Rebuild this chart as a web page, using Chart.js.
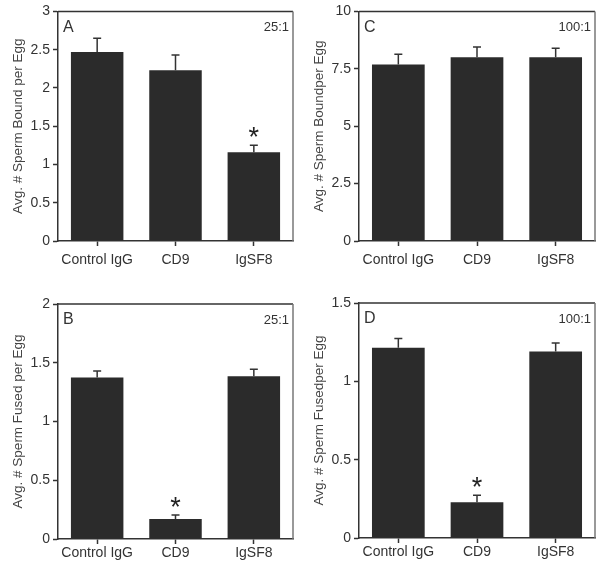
<!DOCTYPE html>
<html>
<head>
<meta charset="utf-8">
<script src="https://cdn.jsdelivr.net/npm/chart.js@4"></script>
<style>
    html, body { margin: 0; padding: 0; background: #fff; }
    body { width: 602px; height: 564px; position: relative; overflow: hidden; }
    .panel { position: absolute; width: 301px; height: 282px; }
</style>
</head>
<body>
<div class="panel" style="left:0;top:0"><canvas id="chartA"></canvas></div>
<div class="panel" style="left:301px;top:0"><canvas id="chartC"></canvas></div>
<div class="panel" style="left:0;top:282px"><canvas id="chartB"></canvas></div>
<div class="panel" style="left:301px;top:282px"><canvas id="chartD"></canvas></div>
<script>
const categories = ["Control IgG", "CD9", "IgSF8"];

const boundLow = [2.47, 2.23, 1.16];
const boundLowErr = [0.18, 0.20, 0.09];
const boundHigh = [7.69, 8.00, 8.00];
const boundHighErr = [0.44, 0.45, 0.39];

const fusedLow = [1.375, 0.17, 1.385];
const fusedLowErr = [0.055, 0.035, 0.06];
const fusedHigh = [1.215, 0.228, 1.19];
const fusedHighErr = [0.058, 0.045, 0.055];

const starsA = [false, false, true];
const starsC = [false, false, false];
const starsB = [false, true, false];
const starsD = [false, true, false];

const FONT = "'Liberation Sans', Arial, sans-serif";
const INK = "#333";
const BAR = "#2b2b2b";

const panelPlugin = {
    id: "panelExtras",
    afterDatasetsDraw(chart, args, opts) {
        const { ctx, chartArea: a, scales } = chart;
        const y = scales.y;
        const meta = chart.getDatasetMeta(0);
        ctx.save();

        // error bars (upper only)
        ctx.strokeStyle = INK;
        ctx.lineWidth = 1.5;
        opts.values.forEach((v, i) => {
            const cx = meta.data[i].x;
            const top = y.getPixelForValue(v + opts.errors[i]);
            const base = y.getPixelForValue(v);
            ctx.beginPath();
            ctx.moveTo(cx, base);
            ctx.lineTo(cx, top);
            ctx.moveTo(cx - 4, top);
            ctx.lineTo(cx + 4, top);
            ctx.stroke();
            if (opts.stars[i]) {
                ctx.fillStyle = "#222";
                ctx.font = "27px " + FONT;
                ctx.textAlign = "center";
                ctx.textBaseline = "alphabetic";
                ctx.fillText("*", cx, top + 1);
            }
        });

        // frame: top and right edges
        ctx.lineWidth = 1.5;
        ctx.strokeStyle = INK;
        ctx.beginPath();
        ctx.moveTo(a.left, a.top);
        ctx.lineTo(a.right, a.top);
        ctx.stroke();
        ctx.strokeStyle = "#777";
        ctx.beginPath();
        ctx.moveTo(a.right, a.top);
        ctx.lineTo(a.right, a.bottom);
        ctx.stroke();

        // panel letter and ratio
        ctx.fillStyle = INK;
        ctx.textBaseline = "middle";
        ctx.font = "16px " + FONT;
        ctx.textAlign = "left";
        ctx.fillText(opts.letter, a.left + 5, a.top + 16);
        ctx.font = "13px " + FONT;
        ctx.textAlign = "right";
        ctx.fillText(opts.ratio, a.right - 4, a.top + 16);
        ctx.restore();
    }
};

function makePanel(id, p) {
    new Chart(document.getElementById(id), {
        type: "bar",
        data: {
            labels: categories,
            datasets: [{
                data: p.values,
                backgroundColor: BAR,
                borderWidth: 0,
                categoryPercentage: 1,
                barPercentage: 0.67
            }]
        },
        options: {
            responsive: false,
            animation: false,
            devicePixelRatio: 1,
            layout: { padding: { left: 0, top: p.padTop, right: p.padRight, bottom: 0 } },
            plugins: {
                legend: { display: false },
                tooltip: { enabled: false },
                panelExtras: {
                    values: p.values,
                    errors: p.errors,
                    stars: p.stars,
                    letter: p.letter,
                    ratio: p.ratio
                }
            },
            scales: {
                x: {
                    afterFit: s => { s.height = p.xHeight; },
                    grid: {
                        offset: false,
                        drawOnChartArea: false,
                        tickLength: 5,
                        tickColor: INK,
                        tickWidth: 1.5
                    },
                    border: { color: INK, width: 1.5 },
                    ticks: {
                        color: INK,
                        padding: p.xPad,
                        font: { family: FONT, size: 14 }
                    }
                },
                y: {
                    min: 0,
                    max: p.max,
                    afterFit: s => { s.width = 58; },
                    afterBuildTicks: axis => {
                        axis.ticks = p.ticks.map(v => ({ value: v }));
                    },
                    grid: {
                        drawOnChartArea: false,
                        tickLength: 5,
                        tickColor: INK,
                        tickWidth: 1.5
                    },
                    border: { color: INK, width: 1.5 },
                    ticks: {
                        color: INK,
                        padding: 3,
                        font: { family: FONT, size: 14 },
                        callback: v => String(v)
                    },
                    title: {
                        display: true,
                        text: p.title,
                        color: "#444",
                        padding: { top: 10, bottom: 0 },
                        font: { family: FONT, size: 13.5 }
                    }
                }
            }
        },
        plugins: [panelPlugin]
    });
}

function sizeCanvas(id) {
    const c = document.getElementById(id);
    c.width = 301;
    c.height = 282;
    c.style.width = "301px";
    c.style.height = "282px";
}
["chartA", "chartB", "chartC", "chartD"].forEach(sizeCanvas);

makePanel("chartA", {
    values: boundLow, errors: boundLowErr, stars: starsA,
    max: 3, ticks: [0, 0.5, 1, 1.5, 2, 2.5, 3],
    title: "Avg. # Sperm Bound per Egg", letter: "A", ratio: "25:1",
    padTop: 7, padRight: 8, xHeight: 41, xPad: 6
});
makePanel("chartC", {
    values: boundHigh, errors: boundHighErr, stars: starsC,
    max: 10, ticks: [0, 2.5, 5, 7.5, 10],
    title: "Avg. # Sperm Boundper Egg", letter: "C", ratio: "100:1",
    padTop: 7, padRight: 7, xHeight: 41, xPad: 6
});
makePanel("chartB", {
    values: fusedLow, errors: fusedLowErr, stars: starsB,
    max: 2, ticks: [0, 0.5, 1, 1.5, 2],
    title: "Avg. # Sperm Fused per Egg", letter: "B", ratio: "25:1",
    padTop: 22, padRight: 8, xHeight: 25, xPad: 1
});
makePanel("chartD", {
    values: fusedHigh, errors: fusedHighErr, stars: starsD,
    max: 1.5, ticks: [0, 0.5, 1, 1.5],
    title: "Avg. # Sperm Fusedper Egg", letter: "D", ratio: "100:1",
    padTop: 21, padRight: 7, xHeight: 26, xPad: 1
});
</script>
</body>
</html>
